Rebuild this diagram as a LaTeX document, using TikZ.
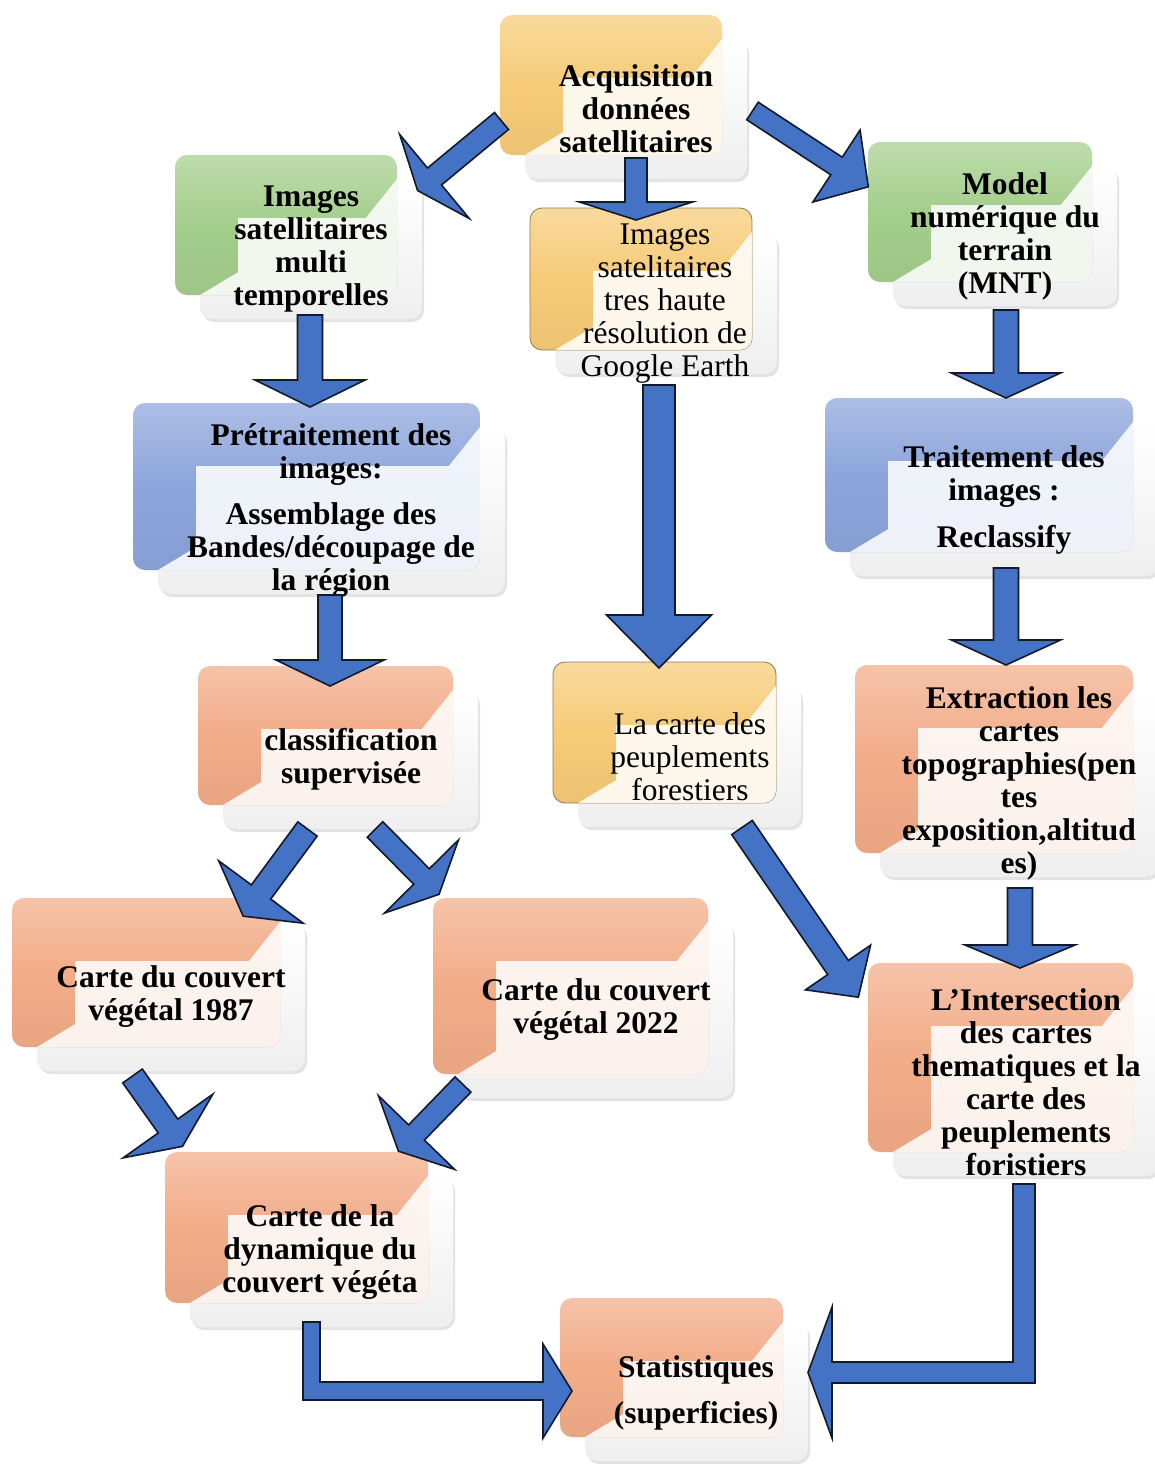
\documentclass[tikz,border=0pt]{standalone}
\usepackage{fontspec}
\setmainfont{Liberation Serif}
\usetikzlibrary{calc,shadows}
\definecolor{cgold}{RGB}{246,203,120}
\definecolor{cgreen}{RGB}{164,206,140}
\definecolor{cblue}{RGB}{140,165,219}
\definecolor{csalmon}{RGB}{242,172,136}
\definecolor{afill}{RGB}{68,114,196}
\definecolor{aline}{RGB}{18,26,44}
\tikzset{
  frontbox/.style={rounded corners=12pt, top color=white, bottom color=gray!13,
    drop shadow={opacity=0.22, shadow xshift=2pt, shadow yshift=-3pt}},
  backbox/.style={rounded corners=12pt, top color=#1!72!white, bottom color=#1!96!black, middle color=#1},
  blockarrow/.style={fill=afill, draw=aline, line width=1.6pt, line join=miter},
  lbl/.style={align=center, inner sep=0pt, font=\bfseries\fontsize{31.5}{33}\selectfont},
  lblr/.style={align=center, inner sep=0pt, font=\fontsize{31.5}{33}\selectfont},
}
\newcommand{\flowbox}[6]{%
  \pgfmathsetmacro{\fxa}{#2+25}\pgfmathsetmacro{\fya}{#3+24}%
  \pgfmathsetmacro{\fxb}{#4+25}\pgfmathsetmacro{\fyb}{#5+24}%
  \pgfmathsetmacro{\xL}{#2+63}\pgfmathsetmacro{\yT}{#3+63}%
  \pgfmathsetmacro{\xT}{#4-0.8*(\yT-\fya)}\pgfmathsetmacro{\yB}{#5-0.6*(\xL-\fxa)}%
  \path[frontbox] (\fxa,\fya) rectangle (\fxb,\fyb);
  \path[backbox={#1},#6] (#2,#3) rectangle (#4,#5);
  \begin{scope}
    \clip[rounded corners=12pt] (#2,#3) rectangle (#4,#5);
    \fill[white,opacity=0.86] (\xL,\yT) -- (\xT,\yT) -- (#4,\fya) -- (#4,#5) -- (\fxa,#5) -- (\xL,\yB) -- cycle;
  \end{scope}
}
\newcommand{\barrow}[5]{%
  \pgfmathsetmacro{\hsw}{#3/2}\pgfmathsetmacro{\hhw}{#4/2}%
  \path[blockarrow] ($(#1)!\hsw pt!90:(#2)$) -- ($(#2)!\hsw pt!-90:(#1)$) -- ($(#2)!\hhw pt!-90:(#1)$)
    -- ($(#2)!-#5pt!(#1)$) -- ($(#2)!\hhw pt!90:(#1)$) -- ($(#2)!\hsw pt!90:(#1)$)
    -- ($(#1)!\hsw pt!-90:(#2)$) -- cycle;
}
\begin{document}
\begin{tikzpicture}[x=1pt,y=-1pt]
\fill[white] (0,0) rectangle (1155,1464);
\useasboundingbox (0,0) rectangle (1155,1464);

% boxes
\flowbox{cgold}{500}{15}{722}{155}{}
\flowbox{cgreen}{175}{155}{397}{295}{}
\flowbox{cgold}{530}{208}{752}{350}{draw=cgold!60!black,line width=0.8pt}
\flowbox{cgreen}{868}{142}{1092}{282}{}
\flowbox{cblue}{133}{403}{480}{570}{}
\flowbox{cblue}{825}{398}{1133}{552}{}
\flowbox{csalmon}{198}{666}{453}{805}{}
\flowbox{cgold}{553}{662}{776}{803}{draw=cgold!60!black,line width=0.8pt}
\flowbox{csalmon}{855}{665}{1133}{853}{}
\flowbox{csalmon}{12}{898}{280}{1047}{}
\flowbox{csalmon}{433}{898}{708}{1074}{}
\flowbox{csalmon}{868}{963}{1133}{1152}{}
\flowbox{csalmon}{165}{1152}{428}{1303}{}
\flowbox{csalmon}{560}{1298}{783}{1437}{}

% texts
\node[lbl] (acq) at (636,109) {Acquisition\\données\\satellitaires};
\node[lbl] (multi) at (311,249) {Images\\satellitaires\\multi\\temporelles};
\node[lblr] (goog) at (665,304) {Images\\satelitaires\\tres haute\\résolution de\\Google Earth};
\node[lbl] (mnt) at (1005,236) {Model\\numérique du\\terrain\\(MNT)};
\node[lbl] (pret) at (331,511) {Prétraitement des\\images:\\[13pt]Assemblage des\\Bandes/découpage de\\la région};
\node[lbl] (trait) at (1004,500) {Traitement des\\images :\\[14pt]Reclassify};
\node[lbl] (class) at (351,759) {classification\\supervisée};
\node[lblr] (carte) at (690,757) {La carte des\\peuplements\\forestiers};
\node[lbl] (extr) at (1019,783) {Extraction les\\cartes\\topographies(pen\\tes\\exposition,altitud\\es)};
\node[lbl] (c87) at (171,997) {Carte du couvert\\végétal 1987};
\node[lbl] (c22) at (596,1010) {Carte du couvert\\végétal 2022};
\node[lbl] (inter) at (1026,1082) {L'Intersection\\des cartes\\thematiques et la\\carte des\\peuplements\\foristiers};
\node[lbl] (dyn) at (320,1252) {Carte de la\\dynamique du\\couvert végéta};
\node[lbl] (stat) at (696,1393) {Statistiques\\[13pt](superficies)};

% arrow end points
\coordinate (a1s) at (501.5,121);   \coordinate (a1e) at (434.5,176.5);
\coordinate (a2s) at (636,158);     \coordinate (a2e) at (636,202);
\coordinate (a3s) at (752.5,111);   \coordinate (a3e) at (836.5,166);
\coordinate (a4s) at (659,385);     \coordinate (a4e) at (659,615);
\coordinate (a5s) at (310,315);     \coordinate (a5e) at (310,380);
\coordinate (a6s) at (330,595);     \coordinate (a6e) at (330,660);
\coordinate (a7s) at (1006,310);    \coordinate (a7e) at (1006,373);
\coordinate (a8s) at (1006,568);    \coordinate (a8e) at (1006,640);
\coordinate (a9s) at (1020,888);    \coordinate (a9e) at (1020,945);
\coordinate (a10s) at (742,827.5);  \coordinate (a10e) at (838,967.5);
\coordinate (a11s) at (307.5,829);  \coordinate (a11e) at (261,892);
\coordinate (a12s) at (375,829.5);  \coordinate (a12e) at (421.5,876.5);
\coordinate (a13s) at (132.5,1076); \coordinate (a13e) at (168,1126);
\coordinate (a14s) at (463,1084.5); \coordinate (a14e) at (416.5,1132.5);

\barrow{a1s}{a1e}{22}{109}{22}
\barrow{a2s}{a2e}{22}{113}{18}
\barrow{a3s}{a3e}{21}{86}{38}
\barrow{a4s}{a4e}{32}{105}{53}
\barrow{a5s}{a5e}{25}{110}{27}
\barrow{a6s}{a6e}{24}{108}{26}
\barrow{a7s}{a7e}{25}{109}{25}
\barrow{a8s}{a8e}{25}{109}{25}
\barrow{a9s}{a9e}{25}{110}{23}
\barrow{a10s}{a10e}{25}{79}{36}
\barrow{a11s}{a11e}{24}{105}{30}
\barrow{a12s}{a12e}{22}{104}{25}
\barrow{a13s}{a13e}{24}{110}{25}
\barrow{a14s}{a14e}{22}{106}{26}

% elbow arrows
\coordinate (e1s) at (311.5,1322); \coordinate (e1e) at (543,1391);
\path[blockarrow] ($(e1s)+(-8.5,0)$) -- ($(e1s)+(8.5,0)$) -- ($(e1s|-e1e)+(8.5,-9)$) -- ($(e1e)+(0,-9)$)
  -- ($(e1e)+(0,-47)$) -- ($(e1e)+(29,0)$) -- ($(e1e)+(0,47)$) -- ($(e1e)+(0,9)$) -- ($(e1s|-e1e)+(-8.5,9)$) -- cycle;
\coordinate (e2s) at (1024,1184); \coordinate (e2e) at (832,1372.5);
\path[blockarrow] ($(e2s)+(11,0)$) -- ($(e2s|-e2e)+(11,10.5)$) -- ($(e2e)+(0,10.5)$) -- ($(e2e)+(0,65.5)$)
  -- ($(e2e)+(-24,0)$) -- ($(e2e)+(0,-65.5)$) -- ($(e2e)+(0,-10.5)$) -- ($(e2s|-e2e)+(-11,-10.5)$) -- ($(e2s)+(-11,0)$) -- cycle;
\end{tikzpicture}
\end{document}
